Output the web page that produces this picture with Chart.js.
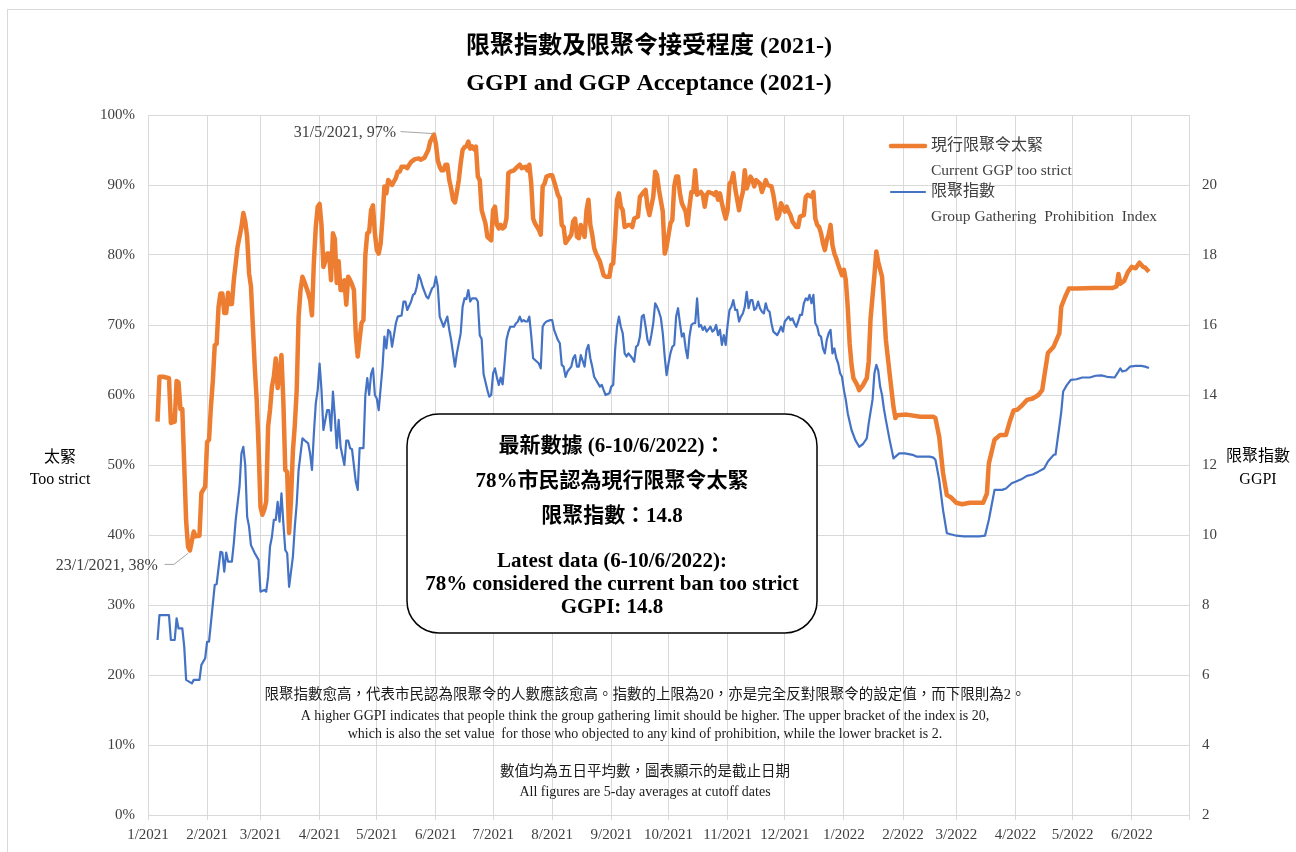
<!DOCTYPE html>
<html>
<head>
<meta charset="utf-8">
<title>GGPI and GGP Acceptance</title>
<script src="https://cdn.jsdelivr.net/npm/chart.js@4.4.1/dist/chart.umd.min.js"></script>
<style>
  html, body { margin: 0; padding: 0; background: #fff; }
  #wrap { width: 1296px; height: 852px; position: relative; }
</style>
</head>
<body>
<div id="wrap"><canvas id="chart" width="1296" height="852"></canvas></div>
<script>
// x values are days since 1 Jan 2021
const monthLabels = ['1/2021', '2/2021', '3/2021', '4/2021', '5/2021', '6/2021', '7/2021', '8/2021', '9/2021',
  '10/2021', '11/2021', '12/2021', '1/2022', '2/2022', '3/2022', '4/2022', '5/2022', '6/2022', ''];

// 現行限聚令太緊 (%), [day, value]
const tooStrict = [
  [5,56.2],[6,62.6],[8,62.6],[11,62.4],[12,56.0],[14,56.2],[15,62.0],[16,61.8],[17,58.0],[18,58.0],[19,50.0],[20,42.0],[21,38.3],[22,37.8],[24,40.5],[25,39.8],[27,39.9],[28,46.0],[30,46.9],[31,53.3],[32,53.6],[33,58.3],[34,62.0],[35,67.1],[36,67.3],[37,72.6],[38,74.5],[39,74.5],[40,71.7],[41,71.7],[42,74.6],[43,73.0],[44,73.0],[45,76.4],[46,78.8],[47,81.2],[49,84.0],[50,86.0],[51,84.8],[52,82.6],[53,77.4],[54,75.5],[55,69.8],[56,64.0],[57,59.3],[58,52.6],[59,44.0],[60,42.9],[61,43.6],[62,44.8],[63,55.5],[64,57.9],[65,61.2],[66,62.6],[67,65.2],[68,61.0],[69,63.0],[70,65.7],[71,59.0],[72,49.3],[73,49.0],[74,40.3],[75,45.0],[76,52.0],[77,55.7],[78,60.7],[79,71.2],[80,75.0],[81,76.9],[82,76.2],[84,74.6],[85,73.6],[86,71.4],[87,79.0],[88,84.0],[89,86.9],[90,87.3],[91,84.3],[92,78.3],[93,79.1],[94,80.2],[95,80.2],[96,76.4],[97,83.1],[98,82.3],[99,76.0],[100,79.1],[101,75.0],[102,75.0],[103,76.4],[104,72.9],[105,76.9],[106,76.4],[107,75.8],[108,75.0],[109,68.5],[110,65.5],[111,68.0],[112,70.3],[113,70.7],[114,80.0],[115,83.1],[116,83.3],[117,86.4],[118,87.1],[119,83.1],[120,80.7],[121,80.2],[122,81.6],[123,85.2],[124,89.8],[125,88.8],[126,90.7],[127,90.4],[128,90.0],[130,91.0],[131,91.9],[132,91.9],[133,92.6],[135,92.6],[136,92.4],[137,92.9],[138,93.3],[140,93.7],[142,93.8],[143,93.6],[145,93.9],[147,95.0],[148,96.2],[149,96.7],[150,97.2],[151,95.9],[152,93.5],[153,92.6],[154,92.1],[155,92.1],[156,92.9],[157,92.9],[158,90.7],[159,89.5],[160,87.9],[161,87.5],[162,89.0],[163,90.7],[164,93.1],[165,95.0],[166,95.4],[167,95.5],[168,96.2],[169,95.2],[170,95.5],[171,95.1],[172,95.5],[173,91.2],[174,90.7],[175,86.4],[177,84.5],[178,82.6],[180,82.1],[181,86.4],[182,86.9],[183,84.3],[184,83.8],[185,84.3],[186,83.8],[187,84.0],[188,85.2],[189,91.7],[190,91.9],[192,92.1],[193,92.4],[195,92.9],[196,92.4],[198,92.6],[199,92.1],[200,92.9],[201,90.2],[202,85.2],[203,84.5],[205,83.6],[206,82.9],[207,89.8],[208,90.2],[209,91.2],[211,91.4],[212,91.4],[213,90.5],[215,88.6],[216,88.1],[217,84.3],[218,84.0],[219,81.7],[220,82.1],[222,82.9],[223,84.8],[224,85.2],[225,82.6],[226,82.4],[227,84.3],[229,82.6],[230,86.4],[231,87.9],[232,84.3],[233,82.9],[234,81.0],[235,80.2],[237,79.1],[238,78.1],[239,77.1],[240,76.9],[242,76.9],[243,78.6],[244,78.8],[245,82.9],[246,87.9],[247,88.8],[248,86.9],[249,86.4],[250,84.0],[252,84.3],[253,84.3],[254,84.0],[255,85.2],[257,85.5],[258,88.3],[260,89.0],[261,89.3],[262,86.9],[263,85.7],[265,88.3],[266,91.9],[267,91.4],[268,89.3],[270,86.2],[271,80.2],[272,81.2],[274,84.5],[275,85.0],[276,89.8],[277,91.2],[278,91.2],[279,88.8],[280,87.4],[282,86.2],[283,84.3],[284,86.9],[285,89.0],[286,89.0],[287,92.1],[288,88.6],[290,89.0],[291,88.6],[292,86.9],[293,88.6],[294,89.0],[296,88.8],[297,88.6],[298,89.0],[299,87.9],[300,88.8],[301,87.4],[302,86.2],[303,85.2],[304,86.4],[305,90.2],[306,90.5],[307,91.7],[308,89.5],[310,86.4],[311,87.9],[312,89.0],[313,92.1],[314,89.5],[316,91.2],[317,90.7],[318,89.8],[319,90.7],[321,90.2],[322,89.0],[323,89.8],[324,90.7],[325,90.0],[327,89.8],[328,88.6],[329,86.9],[330,85.2],[331,85.7],[332,87.4],[334,86.2],[335,86.9],[336,86.2],[337,85.7],[338,84.8],[340,84.0],[341,84.0],[342,85.5],[344,85.7],[345,88.3],[346,88.6],[348,88.3],[349,89.0],[350,85.2],[351,84.3],[352,84.0],[353,83.1],[354,81.7],[355,80.7],[356,82.1],[357,82.9],[358,84.3],[359,81.4],[360,80.2],[361,79.5],[362,78.6],[364,77.1],[365,77.9],[366,76.4],[367,72.6],[368,67.4],[369,64.3],[370,62.4],[372,61.4],[373,60.7],[375,61.4],[377,62.4],[378,64.8],[379,71.0],[381,77.1],[382,80.5],[383,79.0],[385,76.9],[386,72.6],[387,67.9],[389,63.0],[391,58.3],[392,56.7],[393,57.1],[398,57.2],[405,56.9],[412,56.9],[413,56.7],[415,54.0],[417,48.8],[419,45.7],[421,45.4],[424,44.6],[427,44.4],[431,44.6],[438,44.6],[440,45.9],[441,50.2],[444,53.6],[447,54.3],[450,54.3],[452,56.2],[454,57.8],[456,57.9],[458,58.4],[461,59.3],[464,59.5],[467,60.0],[469,60.7],[470,62.5],[472,66.0],[475,66.9],[478,68.8],[479,72.6],[481,74.0],[483,75.2],[487,75.2],[496,75.3],[506,75.3],[508,75.5],[509,77.3],[510,75.9],[512,76.3],[514,77.6],[516,78.3],[518,78.1],[520,78.9],[522,78.3],[523,78.2],[524,77.9],[525,77.6]
];

// 限聚指數 GGPI, [day, value]
const ggpi = [
  [5,7.0],[6,7.71],[11,7.71],[12,7.0],[14,7.0],[15,7.62],[16,7.33],[18,7.33],[19,6.81],[20,5.86],[23,5.76],[24,5.86],[27,5.86],[28,6.29],[30,6.48],[31,6.95],[32,6.95],[33,7.48],[35,8.57],[36,8.6],[38,9.52],[39,9.5],[40,8.95],[41,9.5],[42,9.24],[44,9.24],[45,9.76],[46,10.43],[48,11.38],[49,12.33],[50,12.52],[51,12.0],[52,10.52],[53,10.24],[54,9.71],[56,9.48],[58,9.29],[59,8.38],[61,8.43],[62,8.38],[63,8.81],[64,9.67],[65,9.95],[66,10.43],[67,10.43],[68,10.95],[69,10.38],[70,11.19],[71,10.33],[72,9.57],[73,9.48],[74,8.52],[76,9.38],[77,10.24],[78,10.9],[79,11.86],[81,12.76],[82,12.71],[84,12.62],[85,12.33],[86,11.86],[87,12.9],[88,13.76],[89,14.14],[90,14.9],[91,14.14],[92,13.0],[94,13.57],[95,13.57],[96,12.98],[97,14.1],[98,13.38],[99,12.48],[100,13.29],[101,12.52],[103,12.0],[104,12.7],[105,12.7],[106,12.48],[107,12.45],[109,11.52],[110,11.29],[111,12.48],[113,12.48],[114,14.0],[115,14.48],[116,14.0],[117,14.6],[118,14.76],[119,14.0],[120,13.9],[121,13.57],[123,14.8],[124,15.67],[125,15.33],[126,15.86],[127,15.8],[128,15.38],[129,15.71],[130,16.05],[131,16.24],[133,16.27],[134,16.67],[135,16.67],[136,16.43],[138,16.67],[139,16.86],[140,16.9],[141,17.1],[142,17.43],[143,17.3],[144,17.1],[146,16.81],[147,16.76],[149,17.05],[150,17.1],[151,17.38],[152,17.1],[153,16.24],[154,16.1],[155,15.95],[156,16.1],[157,16.24],[158,15.86],[159,15.57],[160,15.19],[161,14.81],[162,15.19],[164,15.76],[165,16.52],[166,16.76],[167,16.74],[168,17.0],[169,16.67],[170,16.76],[172,16.76],[173,16.67],[174,15.71],[175,15.6],[176,14.6],[178,14.14],[179,13.95],[180,14.0],[181,14.62],[182,14.76],[183,14.5],[184,14.29],[185,14.5],[186,14.3],[187,14.9],[188,15.57],[189,15.8],[190,15.95],[192,15.95],[193,16.05],[194,16.1],[195,16.24],[196,16.1],[197,16.14],[198,16.1],[199,16.1],[200,16.24],[201,15.7],[202,15.05],[203,15.0],[205,14.9],[206,14.76],[207,15.95],[208,16.05],[209,16.1],[211,16.14],[212,16.14],[213,15.86],[215,15.57],[216,15.48],[217,14.86],[218,14.81],[219,14.52],[220,14.67],[222,14.81],[223,15.05],[224,15.14],[225,14.81],[226,14.81],[227,15.14],[229,14.81],[230,15.29],[231,15.43],[232,15.05],[233,14.81],[234,14.52],[235,14.43],[237,14.24],[238,14.29],[239,14.14],[240,14.0],[242,14.05],[243,14.24],[244,14.29],[245,15.29],[246,15.95],[247,16.24],[248,15.95],[249,15.76],[250,15.19],[251,15.1],[252,15.19],[254,15.05],[255,14.95],[256,15.38],[257,15.43],[258,15.67],[259,16.24],[260,16.29],[261,15.95],[262,15.57],[263,15.43],[264,15.71],[265,16.05],[266,16.62],[267,16.52],[268,16.38],[269,16.2],[270,15.76],[271,15.1],[272,14.57],[273,14.9],[274,15.19],[275,15.38],[276,15.43],[277,16.24],[278,16.48],[279,16.05],[280,15.67],[281,15.76],[282,15.33],[283,15.05],[284,15.67],[285,16.0],[286,16.05],[287,16.05],[288,16.76],[289,15.95],[290,16.0],[291,15.86],[292,15.95],[293,15.81],[295,15.95],[296,15.81],[297,15.86],[298,16.0],[299,15.71],[300,15.86],[301,15.43],[302,15.71],[303,15.43],[304,16.0],[305,16.43],[306,16.52],[307,16.71],[308,16.43],[309,16.43],[310,16.1],[311,16.24],[312,16.33],[313,16.52],[314,16.95],[315,16.48],[316,16.71],[317,16.71],[318,16.43],[319,16.48],[320,16.67],[321,16.48],[322,16.38],[323,16.33],[324,16.62],[325,16.43],[326,16.38],[327,16.05],[328,15.81],[330,15.71],[331,15.81],[332,15.95],[333,15.81],[334,16.1],[336,16.24],[337,16.14],[338,16.19],[339,16.05],[340,15.95],[341,16.1],[342,16.29],[343,16.29],[344,16.62],[345,16.76],[346,16.71],[347,16.86],[348,16.62],[349,16.86],[350,16.05],[351,15.95],[352,15.71],[353,15.67],[354,15.33],[355,15.19],[356,15.57],[357,15.76],[358,15.86],[359,15.19],[360,15.33],[361,15.05],[362,14.9],[363,14.62],[364,14.52],[365,14.14],[366,13.86],[367,13.48],[369,13.0],[371,12.71],[373,12.52],[375,12.6],[377,12.76],[378,13.19],[380,13.86],[381,14.62],[382,14.86],[383,14.7],[384,14.24],[385,14.0],[386,13.6],[387,13.29],[389,12.71],[391,12.19],[394,12.33],[397,12.33],[401,12.29],[403,12.24],[410,12.24],[412,12.21],[413,12.15],[415,11.57],[417,10.71],[419,10.05],[421,10.02],[424,9.98],[428,9.96],[436,9.96],[439,9.98],[441,10.43],[443,11.0],[444,11.29],[448,11.29],[450,11.33],[453,11.48],[455,11.52],[458,11.59],[461,11.69],[464,11.73],[467,11.81],[470,11.9],[472,12.1],[475,12.29],[476,12.3],[478,13.1],[479,13.52],[480,14.1],[482,14.29],[484,14.43],[487,14.45],[490,14.5],[494,14.5],[497,14.55],[500,14.56],[503,14.52],[507,14.5],[509,14.67],[510,14.76],[511,14.67],[513,14.7],[515,14.81],[518,14.83],[521,14.83],[523,14.81],[525,14.77]
];

// dates called out on the orange line
const calloutDays = [150, 22];

const titleLines = ['限聚指數及限聚令接受程度 (2021-)', 'GGPI and GGP Acceptance (2021-)'];
const boxLines = ['最新數據 (6-10/6/2022)：', '78%市民認為現行限聚令太緊', '限聚指數：14.8',
  'Latest data (6-10/6/2022):', '78% considered the current ban too strict', 'GGPI: 14.8'];
const noteLines = [
  '限聚指數愈高，代表市民認為限聚令的人數應該愈高。指數的上限為20，亦是完全反對限聚令的設定值，而下限則為2。',
  'A higher GGPI indicates that people think the group gathering limit should be higher. The upper bracket of the index is 20,',
  'which is also the set value  for those who objected to any kind of prohibition, while the lower bracket is 2.',
  '數值均為五日平均數，圖表顯示的是截止日期',
  'All figures are 5-day averages at cutoff dates'
];

const SERIF = "'Liberation Serif', 'Times New Roman', 'Noto Sans CJK TC', serif";
const ORANGE = '#ED7D31';
const BLUE = '#4472C4';
const GRID = '#d9d9d9';
const TEXT = '#404040';

const DAY0 = Date.UTC(2021, 0, 1);
const monthStarts = monthLabels.map((_, i) => (Date.UTC(2021, i, 1) - DAY0) / 864e5);
function dayToText(day) {
  const d = new Date(DAY0 + day * 864e5);
  return d.getUTCDate() + '/' + (d.getUTCMonth() + 1) + '/' + d.getUTCFullYear();
}

const overlay = {
  id: 'overlay',
  beforeDraw(chart) {
    const {ctx, width, height} = chart;
    ctx.save();
    ctx.fillStyle = '#fff';
    ctx.fillRect(0, 0, width, height);
    ctx.strokeStyle = GRID;
    ctx.lineWidth = 1;
    ctx.strokeRect(7.5, 9.5, width, height);
    ctx.restore();
  },
  afterDraw(chart) {
    const {ctx} = chart;
    const x = chart.scales.x, y = chart.scales.y;
    ctx.save();
    ctx.textBaseline = 'middle';

    // title
    ctx.fillStyle = '#000';
    ctx.textAlign = 'center';
    ctx.font = 'bold 24px ' + SERIF;
    ctx.fillText(titleLines[0], 649, 47);
    ctx.fillText(titleLines[1], 649, 84);

    // axis titles
    ctx.font = '16px ' + SERIF;
    ctx.fillText('太緊', 60, 458);
    ctx.fillText('Too strict', 60, 480);
    ctx.fillText('限聚指數', 1258, 457);
    ctx.fillText('GGPI', 1258, 480);

    // legend
    const lx = 891;
    chart.data.datasets.forEach((ds, i) => {
      const ly = 146 + i * 46;
      ctx.strokeStyle = ds.borderColor;
      ctx.lineWidth = ds.borderWidth;
      ctx.lineCap = 'round';
      ctx.beginPath();
      ctx.moveTo(lx, ly);
      ctx.lineTo(lx + 34, ly);
      ctx.stroke();
      ctx.fillStyle = TEXT;
      ctx.textAlign = 'left';
      ctx.font = '16px ' + SERIF;
      const parts = ds.label.split('\n');
      ctx.fillText(parts[0], lx + 40, ly);
      ctx.font = '15.5px ' + SERIF;
      ctx.fillText(parts[1], lx + 40, ly + 25);
    });

    // callouts
    ctx.font = '16px ' + SERIF;
    ctx.strokeStyle = '#a6a6a6';
    ctx.lineWidth = 1;
    ctx.fillStyle = TEXT;
    ctx.textAlign = 'right';
    calloutDays.forEach((day, k) => {
      const pt = tooStrict.find(p => p[0] === day);
      const px = x.getPixelForValue(pt[0]);
      const py = y.getPixelForValue(pt[1]);
      const label = dayToText(day) + ', ' + Math.round(pt[1]) + '%';
      ctx.beginPath();
      if (k === 0) {
        ctx.fillText(label, px - 38, py - 2);
        ctx.moveTo(px - 33, py - 3);
        ctx.lineTo(px - 1, py - 1);
      } else {
        ctx.fillText(label, px - 32, py + 15);
        ctx.moveTo(px - 25, py + 14);
        ctx.lineTo(px - 16, py + 14);
        ctx.lineTo(px - 2, py + 3);
      }
      ctx.stroke();
    });

    // info box
    ctx.beginPath();
    ctx.roundRect(407, 414, 410, 219, 32);
    ctx.fillStyle = '#fff';
    ctx.fill();
    ctx.strokeStyle = '#000';
    ctx.lineWidth = 1.5;
    ctx.stroke();
    ctx.fillStyle = '#000';
    ctx.textAlign = 'center';
    ctx.font = 'bold 21px ' + SERIF;
    const boxY = [447, 482, 517, 562, 585, 608];
    boxLines.forEach((t, i) => ctx.fillText(t, 612, boxY[i]));

    // notes
    ctx.fillStyle = '#1a1a1a';
    const noteY = [695, 716, 734, 772, 792];
    noteLines.forEach((t, i) => {
      ctx.font = (i === 0 || i === 3 ? '14.5px ' : '14px ') + SERIF;
      ctx.fillText(t, 645, noteY[i]);
    });
    ctx.restore();
  }
};

Chart.defaults.font.family = SERIF;
Chart.defaults.color = TEXT;

new Chart(document.getElementById('chart'), {
  type: 'line',
  data: {
    datasets: [
      {
        label: '現行限聚令太緊\nCurrent GGP too strict',
        data: tooStrict.map(([d, v]) => ({x: d, y: v})),
        yAxisID: 'y',
        borderColor: ORANGE,
        borderWidth: 4.5,
        borderJoinStyle: 'round',
        pointRadius: 0,
        tension: 0
      },
      {
        label: '限聚指數\nGroup Gathering  Prohibition  Index',
        data: ggpi.map(([d, v]) => ({x: d, y: v})),
        yAxisID: 'y2',
        borderColor: BLUE,
        borderWidth: 2.2,
        borderJoinStyle: 'round',
        pointRadius: 0,
        tension: 0
      }
    ]
  },
  options: {
    responsive: false,
    animation: false,
    layout: { padding: { top: 115, left: 0, right: 0, bottom: 0 } },
    plugins: {
      legend: { display: false },
      tooltip: { enabled: false }
    },
    scales: {
      x: {
        type: 'linear',
        min: 0,
        max: monthStarts[monthStarts.length - 1],
        afterBuildTicks: s => { s.ticks = monthStarts.map(v => ({value: v})); },
        afterFit: s => { s.height = 37; },
        grid: { color: GRID, tickLength: 5, drawTicks: true },
        border: { color: GRID },
        ticks: {
          autoSkip: false,
          maxRotation: 0,
          padding: 6,
          font: { size: 15 },
          color: TEXT,
          callback: (v, i) => monthLabels[i]
        }
      },
      y: {
        position: 'left',
        min: 0,
        max: 100,
        afterFit: s => { s.width = 148; },
        grid: { color: GRID, drawTicks: false },
        border: { display: false },
        ticks: { stepSize: 10, padding: 13, font: { size: 15 }, color: TEXT, callback: v => v + '%' }
      },
      y2: {
        position: 'right',
        min: 2,
        max: 22,
        afterFit: s => { s.width = 107; },
        grid: { display: false, drawTicks: false },
        border: { display: false },
        ticks: { stepSize: 2, padding: 13, font: { size: 15 }, color: TEXT, callback: v => (v < 22 ? v : '') }
      }
    }
  },
  plugins: [overlay]
});
</script>
</body>
</html>
